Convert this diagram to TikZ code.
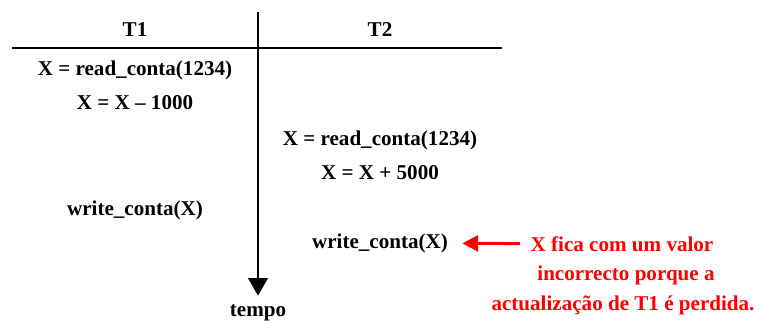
\documentclass[tikz,border=0pt]{standalone}
\usepackage{fontspec}
\setmainfont{Liberation Serif}
\usetikzlibrary{arrows.meta}
\definecolor{errred}{RGB}{255,0,0}

\tikzset{
  op/.style={font=\bfseries\fontsize{12}{14}\selectfont, inner sep=2pt},
  note/.style={op, text=errred},
  axis/.style={line width=1.7pt},
}

\begin{document}
\begin{tikzpicture}[x=0.02cm, y=-0.02cm]
    \useasboundingbox (0,0) rectangle (760,323);

    % column heads
    \node[op] (t1) at (135,30) {T1};
    \node[op] (t2) at (380,30) {T2};

    % operations of T1 and T2
    \node[op] (r1) at (135,70) {X = read\_conta(1234)};
    \node[op] (c1) at (135,103) {X = X -- 1000};
    \node[op] (r2) at (380,140) {X = read\_conta(1234)};
    \node[op] (c2) at (380,173) {X = X + 5000};
    \node[op] (w1) at (135,210) {write\_conta(X)};
    \node[op] (w2) at (380,243) {write\_conta(X)};
    \node[op] (tempo) at (258,313) {tempo};

    % the lost update
    \node[note] (n1) at (622,244) {X fica com um valor};
    \node[note] (n2) at (626,275) {incorrecto porque a};
    \node[note] (n3) at (623,305) {actualização de T1 é perdida.};

    \coordinate (left) at (12,48);
    \coordinate (right) at (502,48);
    \coordinate (top) at (258,12);

    \draw[axis] (left) -- (right);
    \draw[axis, -{Triangle[width=11pt, length=10pt]}, shorten >=3pt] (top) -- (tempo);
    \draw[errred, line width=1.7pt, -{Triangle[width=9pt, length=9pt]}, shorten >=6pt, shorten <=4pt] (n1) -- (w2);
\end{tikzpicture}
\end{document}
